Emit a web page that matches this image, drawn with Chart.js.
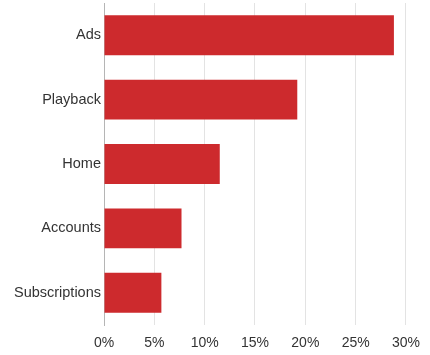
<!DOCTYPE html>
<html>
<head>
<meta charset="utf-8">
<script src="https://cdn.jsdelivr.net/npm/chart.js@4/dist/chart.umd.min.js"></script>
<style>
  html, body { margin: 0; padding: 0; background: #ffffff; }
  #wrap { width: 430px; height: 355px; position: relative; }
</style>
</head>
<body>
<div id="wrap"><canvas id="c"></canvas></div>
<script>
const categories = ["Ads", "Playback", "Home", "Accounts", "Subscriptions"];
const shareValues = [28.8, 19.2, 11.5, 7.7, 5.7];
const xTickValues = [0, 5, 10, 15, 20, 25, 30];

const ctx = document.getElementById('c');
new Chart(ctx, {
  type: 'bar',
  data: {
    labels: categories,
    datasets: [{
      data: shareValues,
      backgroundColor: '#cd2a2d',
      borderWidth: 0,
      categoryPercentage: 1,
      barPercentage: 0.62
    }]
  },
  options: {
    indexAxis: 'y',
    responsive: true,
    maintainAspectRatio: false,
    animation: false,
    layout: { padding: { top: 3, right: 23, bottom: 0, left: 0 } },
    plugins: { legend: { display: false }, tooltip: { enabled: false } },
    scales: {
      x: {
        min: 0, max: 30,
        afterBuildTicks: (s) => { s.ticks = xTickValues.map(v => ({ value: v })); },
        afterFit: (s) => { s.height = 30; },
        grid: { color: '#e3e3e3', lineWidth: 1, drawTicks: false },
        border: { display: false },
        ticks: {
          padding: 10,
          color: '#333333',
          font: { family: 'Liberation Sans, Arial, sans-serif', size: 14 },
          callback: (v) => v + '%'
        }
      },
      y: {
        afterFit: (s) => { s.width = 104; s.paddingTop = 0; s.paddingBottom = 0; },
        grid: { display: false, drawTicks: false },
        border: { display: true, color: '#b5b5b5', width: 1 },
        ticks: {
          padding: 3,
          color: '#333333',
          font: { family: 'Liberation Sans, Arial, sans-serif', size: 14.5 }
        }
      }
    }
  }
});
</script>
</body>
</html>
